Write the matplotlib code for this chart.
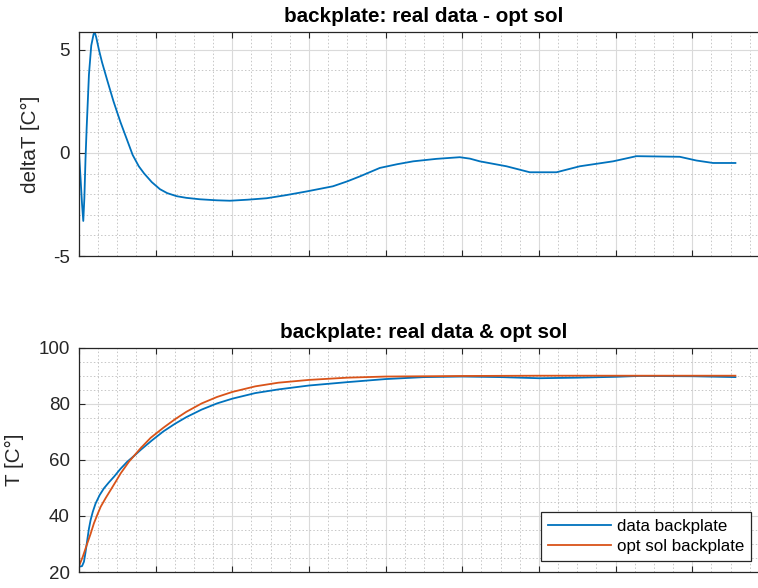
import matplotlib
matplotlib.use('Agg')
import matplotlib.pyplot as plt
from matplotlib.ticker import MultipleLocator, NullFormatter

plt.rcParams['font.family'] = ['Liberation Sans', 'DejaVu Sans']
plt.rcParams['axes.unicode_minus'] = False

# deltaT = real data - opt sol (top panel)
t_delta = [0, 20, 40, 56, 70, 85, 100, 130, 160, 190, 205, 225, 260, 300, 370, 450,
           540, 620, 700, 780, 850, 950, 1056, 1150, 1274, 1400, 1578, 1800, 1969,
           2200, 2447, 2700, 2969, 3312, 3500, 3664, 3924, 4150, 4359, 4663, 4967,
           5100, 5228, 5576, 5880, 6228, 6532, 6966, 7271, 7836, 8053, 8270, 8562]
delta_T = [0, -1.2, -2.5, -3.3, -2.2, -0.3, 1.2, 3.8, 5.2, 5.75, 5.85, 5.6, 5.0, 4.4,
           3.5, 2.5, 1.5, 0.7, -0.1, -0.65, -1.0, -1.42, -1.76, -1.95, -2.1, -2.18,
           -2.25, -2.3, -2.32, -2.27, -2.2, -2.05, -1.87, -1.62, -1.38, -1.14, -0.73,
           -0.55, -0.41, -0.29, -0.21, -0.28, -0.41, -0.65, -0.94, -0.94, -0.65, -0.41,
           -0.16, -0.19, -0.37, -0.49, -0.49]

# measured backplate temperature
t_data = [0, 40, 65, 85, 108, 130, 152, 180, 217, 270, 326, 390, 456, 540, 630, 720,
          804, 956, 1100, 1250, 1400, 1600, 1800, 2000, 2300, 2600, 3000, 3500, 4000,
          4500, 5000, 5500, 6000, 6500, 7000, 7300, 8000, 8562]
T_data = [21.9, 22.1, 23.7, 27, 31.4, 35.5, 38.6, 41.5, 44.5, 47.5, 49.9, 52, 54, 56.8,
          59.4, 61.5, 63.6, 67.1, 70.2, 72.9, 75.3, 78, 80.2, 81.9, 83.9, 85.2, 86.6,
          87.8, 88.9, 89.6, 89.8, 89.6, 89.2, 89.4, 89.7, 90.0, 89.9, 89.6]

# optimal solution
t_opt = [0, 50, 108, 150, 195, 240, 283, 350, 413, 480, 543, 652, 804, 934, 1100, 1250,
         1400, 1600, 1800, 2000, 2300, 2600, 3000, 3500, 4000, 5000, 6000, 7000, 8562]
T_opt = [22.1, 25.5, 30.2, 33.5, 37.4, 40.5, 43.3, 46.5, 49.3, 52.3, 55.2, 59.4, 64.2,
         67.9, 71.5, 74.5, 77.2, 80.2, 82.5, 84.3, 86.3, 87.6, 88.6, 89.4, 89.8, 90.0,
         90.1, 90.1, 90.1]

blue = '#0072BD'
orange = '#D95319'
dark = '#262626'

fig = plt.figure(figsize=(7.58, 5.88), dpi=100)
ax1 = fig.add_axes([0.1042, 0.5646, 0.9103, 0.381])
ax2 = fig.add_axes([0.1042, 0.0272, 0.9103, 0.381])


def style(ax, ymin, ymax, ymaj, ymin_step):
    ax.set_xlim(0, 9000)
    ax.set_ylim(ymin, ymax)
    ax.xaxis.set_major_locator(MultipleLocator(1000))
    ax.xaxis.set_minor_locator(MultipleLocator(250))
    ax.yaxis.set_major_locator(MultipleLocator(ymaj))
    ax.yaxis.set_minor_locator(MultipleLocator(ymin_step))
    ax.xaxis.set_major_formatter(NullFormatter())
    ax.grid(which='major', color='#dadada', linewidth=0.8, linestyle='-')
    ax.grid(which='minor', color='#c6c6c6', linewidth=0.7, linestyle=(0, (1.5, 2.2)))
    ax.set_axisbelow(True)
    ax.tick_params(which='major', direction='in', length=4.5, width=0.8, color=dark,
                   top=True, right=True, labelsize=13.5, labelcolor=dark, pad=6.5)
    ax.tick_params(which='minor', length=0)
    for s in ax.spines.values():
        s.set_color(dark)
        s.set_linewidth(0.9)


ax1.plot(t_delta, delta_T, color=blue, linewidth=1.3)
style(ax1, -5, 5.86, 5, 1)
ax1.set_title('backplate: real data - opt sol', fontsize=14.9, fontweight='bold', pad=7)
ax1.set_ylabel('deltaT [C°]', fontsize=14.9, color=dark)
ax1.yaxis.set_label_coords(-0.056, 0.5)

ax2.plot(t_data, T_data, color=blue, linewidth=1.3, label='data backplate')
ax2.plot(t_opt, T_opt, color=orange, linewidth=1.3, label='opt sol backplate')
style(ax2, 20, 100, 20, 5)
ax2.set_title('backplate: real data & opt sol', fontsize=14.9, fontweight='bold', pad=7)
ax2.set_ylabel('T [C°]', fontsize=14.9, color=dark)
ax2.yaxis.set_label_coords(-0.08, 0.5)

leg = ax2.legend(loc='lower right', bbox_to_anchor=(0.9904, 0.0465),
                 bbox_transform=fig.transFigure, fontsize=12.2, fancybox=False,
                 framealpha=1, edgecolor=dark, handlelength=3.7, handletextpad=0.35,
                 borderpad=0.4, labelspacing=0.3, borderaxespad=0)
leg.get_frame().set_linewidth(0.9)

fig.savefig('out.png', dpi=100)
